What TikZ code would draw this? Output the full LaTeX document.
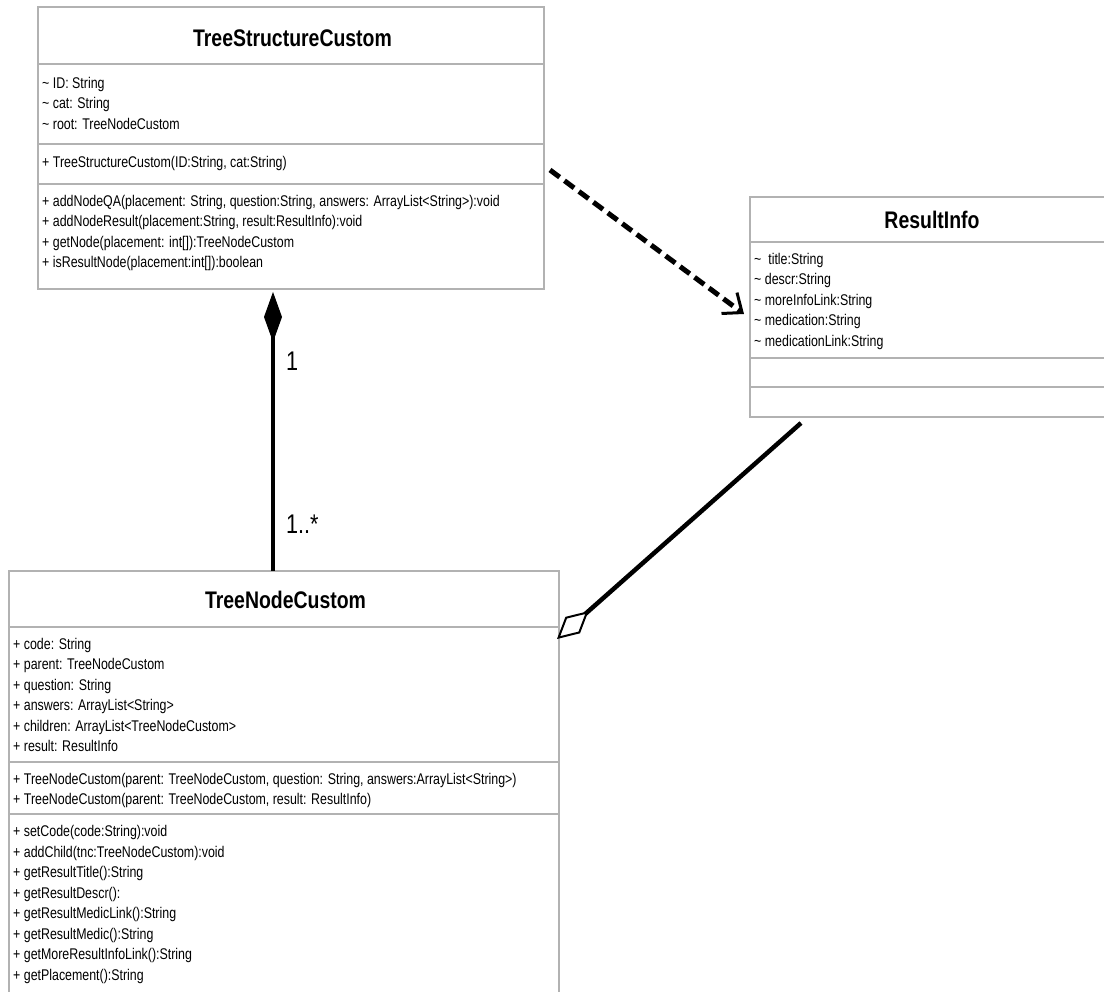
\documentclass[tikz,border=0pt]{standalone}
\usepackage{fontspec}
\usetikzlibrary{arrows.meta}
\newfontfamily\umlfont[FakeStretch=0.80]{Liberation Sans}
\newfontfamily\umltitle[FakeStretch=0.81]{Liberation Sans}
\newcommand\tld{\char"7E\relax}
\tikzset{
  classbox/.style={draw=gray!60, line width=1.5pt, fill=white, anchor=north west, inner sep=0pt, outer sep=0pt},
  compsep/.style={draw=gray!60, line width=1.5pt},
  cname/.style={font=\umltitle\bfseries\fontsize{24}{28}\selectfont, anchor=base, inner sep=0pt},
  members/.style={font=\umlfont\fontsize{15.5}{20.5}\selectfont, align=left, anchor=north west, inner sep=0pt},
  mult/.style={font=\umlfont\fontsize{27}{30}\selectfont, anchor=base west, inner sep=0pt},
  assoc/.style={line width=4.5pt, black},
}
\begin{document}
\begin{tikzpicture}[x=1pt,y=-1pt]
\useasboundingbox (0,0) rectangle (1104,992);
% ---------- TreeStructureCustom
\node[classbox, minimum width=506pt, minimum height=282pt] (tsc) at (38,7) {};
\draw[compsep] (38,64) -- (544,64);
\draw[compsep] (38,144) -- (544,144);
\draw[compsep] (38,184) -- (544,184);
\node[cname] (tsc-name) at (292.5,46.5) {TreeStructureCustom};
\node[members] (tsc-attr) at (42,73.65) {\strut\tld{} ID: String\\\tld{} cat: String\\\tld{} root: TreeNodeCustom};
\node[members] (tsc-ctor) at (42,153.15) {\strut+ TreeStructureCustom(ID:String, cat:String)};
\node[members] (tsc-ops) at (42,191.65) {\strut+ addNodeQA(placement: String, question:String, answers: ArrayList<String>):void\\+ addNodeResult(placement:String, result:ResultInfo):void\\+ getNode(placement: int[]):TreeNodeCustom\\+ isResultNode(placement:int[]):boolean};
% ---------- ResultInfo
\node[classbox, minimum width=364pt, minimum height=220pt] (ri) at (750,197) {};
\draw[compsep] (750,242) -- (1114,242);
\draw[compsep] (750,358) -- (1114,358);
\draw[compsep] (750,387) -- (1114,387);
\node[cname] (ri-name) at (932,228.5) {ResultInfo};
\node[members] (ri-attr) at (754,249.65) {\strut\tld\ \ title:String\\\tld{} descr:String\\\tld{} moreInfoLink:String\\\tld{} medication:String\\\tld{} medicationLink:String};
% ---------- TreeNodeCustom
\node[classbox, minimum width=550pt, minimum height=432pt] (tnc) at (9,571) {};
\draw[compsep] (9,627) -- (559,627);
\draw[compsep] (9,762) -- (559,762);
\draw[compsep] (9,814) -- (559,814);
\node[cname] (tnc-name) at (285.5,608.5) {TreeNodeCustom};
\node[members] (tnc-attr) at (13,634.65) {\strut+ code: String\\+ parent: TreeNodeCustom\\+ question: String\\+ answers: ArrayList<String>\\+ children: ArrayList<TreeNodeCustom>\\+ result: ResultInfo};
\node[members] (tnc-ctor) at (13,769.65) {\strut+ TreeNodeCustom(parent: TreeNodeCustom, question: String, answers:ArrayList<String>)\\+ TreeNodeCustom(parent: TreeNodeCustom, result: ResultInfo)};
\node[members] (tnc-ops) at (13,822.15) {\strut+ setCode(code:String):void\\+ addChild(tnc:TreeNodeCustom):void\\+ getResultTitle():String\\+ getResultDescr():\\+ getResultMedicLink():String\\+ getResultMedic():String\\+ getMoreResultInfoLink():String\\+ getPlacement():String};
% ---------- connectors
\draw[line width=5pt, dash pattern=on 12pt off 6pt, -{Straight Barb[length=16pt,width=26pt,line width=3pt]}]
  ([shift={(6,163)}]tsc.north east) -- ([shift={(-6,117)}]ri.north west);
\draw[assoc, {Diamond[length=50pt,width=18pt,line width=1pt]}-]
  ([shift={(235,3)}]tsc.south west) -- ([shift={(264,0)}]tnc.north west);
\node[mult] (m-one) at (286,371) {1};
\node[mult] (m-many) at (286,533) {1..*};
\draw[assoc, -{Diamond[open,length=42pt,width=22pt,line width=2pt]}]
  ([shift={(51,6)}]ri.south west) -- ([shift={(-2,68)}]tnc.north east);
\end{tikzpicture}
\end{document}
